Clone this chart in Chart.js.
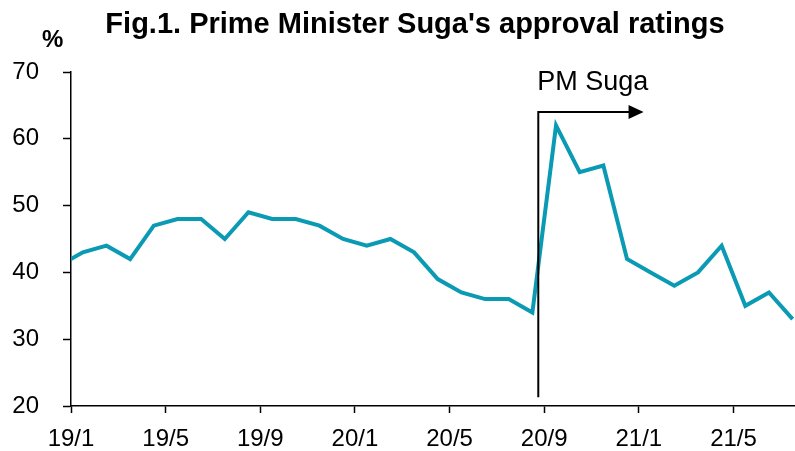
<!DOCTYPE html>
<html lang="en">
<head>
  <meta charset="UTF-8">
  <title>Prime Minister Suga's approval ratings</title>
  <script src="https://cdn.jsdelivr.net/npm/chart.js"></script>
  <style>
    html, body {
      margin: 0;
      padding: 0;
      background: #fff;
    }

    canvas {
      display: block;
    }
  </style>
</head>
<body>
  <canvas id="approvalChart" width="795" height="451"></canvas>

  <script>
// monthly survey, first value is 2018/12 (only its segment to 19/1 shows)
const months = [
  "18/12",
  "19/1", "19/2", "19/3", "19/4", "19/5", "19/6", "19/7", "19/8", "19/9", "19/10", "19/11", "19/12",
  "20/1", "20/2", "20/3", "20/4", "20/5", "20/6", "20/7", "20/8", "20/9", "20/10", "20/11", "20/12",
  "21/1", "21/2", "21/3", "21/4", "21/5", "21/6", "21/7"
];
const approval = [
  41,
  43, 44, 42, 47, 48, 48, 45, 49, 48, 48, 47, 45,
  44, 45, 43, 39, 37, 36, 36, 34, 62, 55, 56, 42,
  40, 38, 40, 44, 35, 37, 33
];
const tickLabels = ["19/1", "19/5", "19/9", "20/1", "20/5", "20/9", "21/1", "21/5"];
const yTicks = [20, 30, 40, 50, 60, 70];

// x is months since 19/1, each survey sits mid-month
const points = approval.map((v, i) => ({ x: i - 0.5, y: v }));

// "PM Suga" marker (month index on the x scale)
const sugaStart = 19.75;
const arrowEnd = 24.2;

const extras = {
  id: "extras",
  afterDraw(chart) {
    const ctx = chart.ctx;
    const x = chart.scales.x;
    const y = chart.scales.y;
    ctx.save();
    ctx.fillStyle = "#000";
    ctx.strokeStyle = "#000";

    // title
    ctx.font = "bold 29px 'Liberation Sans', Arial, sans-serif";
    ctx.textAlign = "center";
    ctx.textBaseline = "alphabetic";
    ctx.fillText("Fig.1. Prime Minister Suga's approval ratings", 415, 33);

    ctx.font = "bold 24px 'Liberation Sans', Arial, sans-serif";
    ctx.textAlign = "left";
    ctx.fillText("%", 42, 47);

    // vertical line + arrow
    const x0 = x.getPixelForValue(sugaStart);
    const x1 = x.getPixelForValue(arrowEnd);
    const yTop = y.getPixelForValue(64);
    const yBot = y.getPixelForValue(21.3);
    ctx.lineWidth = 2;
    ctx.beginPath();
    ctx.moveTo(x0, yBot);
    ctx.lineTo(x0, yTop);
    ctx.lineTo(x1 - 12, yTop);
    ctx.stroke();
    ctx.beginPath();
    ctx.moveTo(x1, yTop);
    ctx.lineTo(x1 - 15, yTop - 7);
    ctx.lineTo(x1 - 15, yTop + 7);
    ctx.closePath();
    ctx.fill();

    ctx.font = "27px 'Liberation Sans', Arial, sans-serif";
    ctx.fillText("PM Suga", x0 - 1, y.getPixelForValue(67.3));
    ctx.restore();
  }
};

const ctx = document.getElementById("approvalChart").getContext("2d");
new Chart(ctx, {
  type: "line",
  data: {
    datasets: [
      {
        label: "Approval",
        data: points,
        borderColor: "#0a9ab4",
        borderWidth: 4,
        pointRadius: 0,
        tension: 0,
        fill: false
      }
    ]
  },
  options: {
    responsive: false,
    animation: false,
    devicePixelRatio: 1,
    layout: {
      padding: { top: 72, left: 0, right: 0, bottom: 0 }
    },
    plugins: {
      legend: { display: false },
      tooltip: { enabled: false }
    },
    scales: {
      x: {
        type: "linear",
        min: 0,
        max: 30.6,
        afterBuildTicks: scale => {
          scale.ticks = tickLabels.map((t, i) => ({ value: i * 4 }));
        },
        afterFit: scale => { scale.height = 45; },
        grid: {
          drawOnChartArea: false,
          drawTicks: true,
          tickLength: 7,
          tickWidth: 1.5,
          tickColor: "#000"
        },
        border: { color: "#000", width: 1.5 },
        ticks: {
          color: "#000",
          padding: 12,
          maxRotation: 0,
          autoSkip: false,
          font: { size: 24, family: "'Liberation Sans', Arial, sans-serif" },
          callback: value => tickLabels[value / 4]
        }
      },
      y: {
        min: 20,
        max: 70,
        afterBuildTicks: scale => {
          scale.ticks = yTicks.map(v => ({ value: v }));
        },
        afterFit: scale => { scale.width = 71; },
        grid: {
          drawOnChartArea: false,
          drawTicks: true,
          tickLength: 8,
          tickWidth: 1.5,
          tickColor: "#000"
        },
        border: { color: "#000", width: 1.5 },
        ticks: {
          color: "#000",
          padding: 24,
          font: { size: 24, family: "'Liberation Sans', Arial, sans-serif" }
        }
      }
    }
  },
  plugins: [extras]
});
  </script>
</body>
</html>
